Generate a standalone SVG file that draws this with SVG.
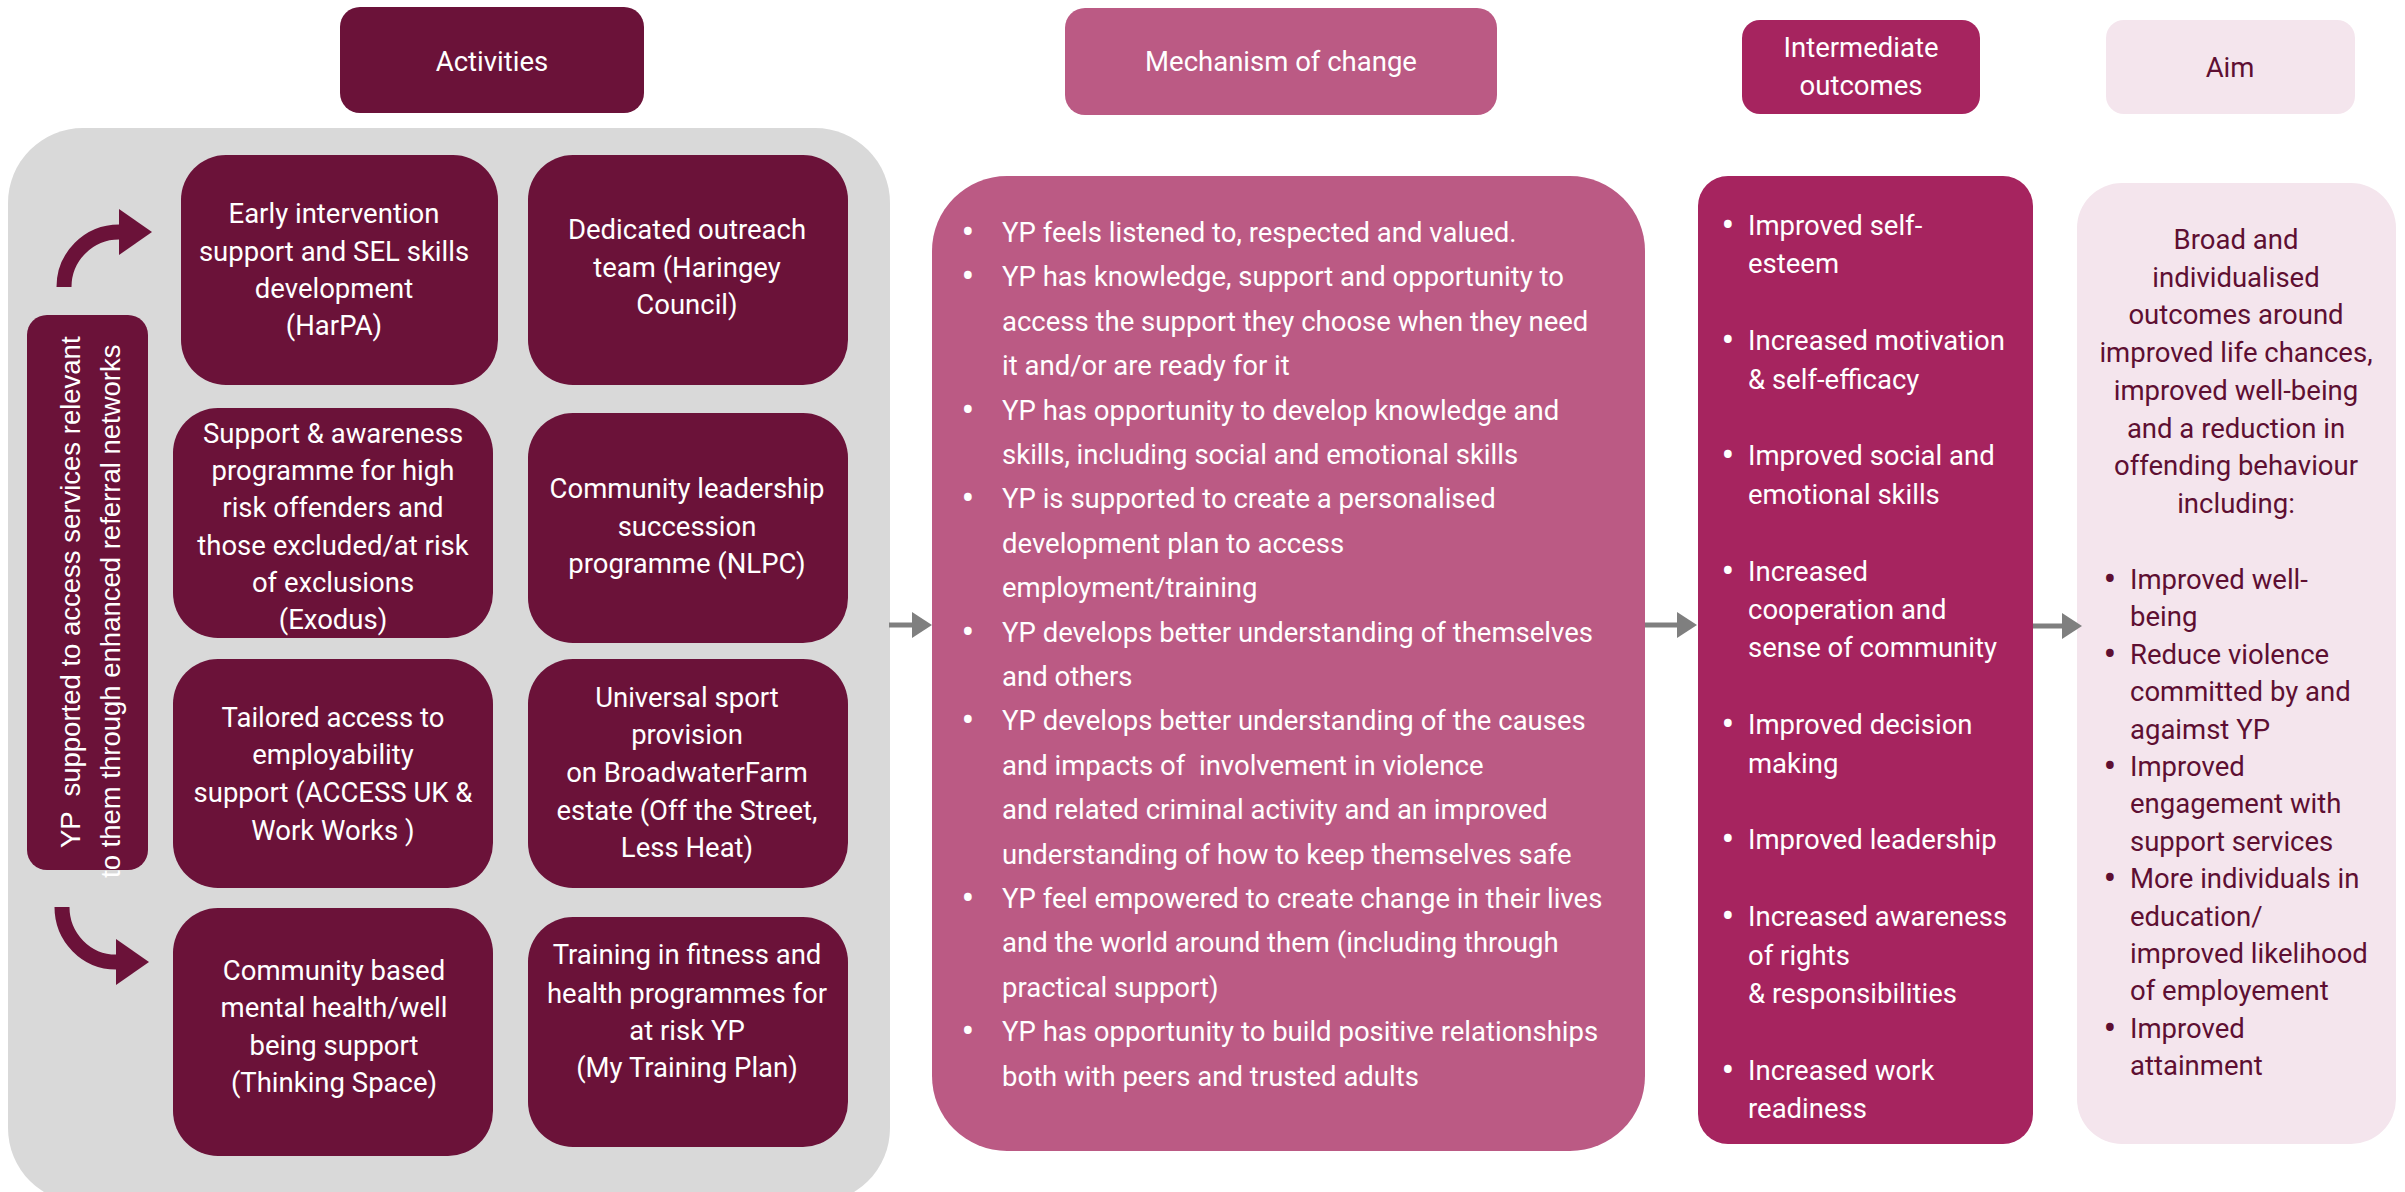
<svg xmlns="http://www.w3.org/2000/svg" width="2405" height="1192" viewBox="0 0 2405 1192">
<style>
  .t { font-family: Roboto, "Liberation Sans", sans-serif; font-size: 27.5px; }
  .w { fill: #ffffff; }
  .d { fill: #5e0f32; }
  .c { text-anchor: middle; }
  .b { text-anchor: middle; font-size: 38px; }
  .act { fill: #6b1239; }
  .mech { fill: #bb5a84; }
  .inter { fill: #a6245f; }
  .aim { fill: #f4e5ed; }
  .v { font-family: "Liberation Sans", Arial, sans-serif; font-size: 27.5px; fill: #ffffff; }
</style>
<defs>
  <marker id="grayHead" markerUnits="userSpaceOnUse" markerWidth="20" markerHeight="26" refX="0" refY="13" orient="auto">
    <path d="M0,0 L20,13 L0,26 z" fill="#7f7f7f"/>
  </marker>
  <marker id="maroonHead" markerUnits="userSpaceOnUse" markerWidth="34" markerHeight="46" refX="0" refY="23" orient="auto">
    <path d="M0,0 L33,23 L0,46 z" fill="#6b1239"/>
  </marker>
</defs>

<rect id="activities-panel" x="8" y="128" width="882" height="1075" rx="75" fill="#d9d9d9"/>

<g id="header-activities">
  <rect x="340" y="7" width="304" height="106" rx="20" class="act"/>
  <text class="t w c" x="492" y="71">Activities</text>
</g>
<g id="header-mechanism">
  <rect x="1065" y="8" width="432" height="107" rx="20" class="mech"/>
  <text class="t w c" x="1281" y="71">Mechanism of change</text>
</g>
<g id="header-intermediate">
  <rect x="1742" y="20" width="238" height="94" rx="18" class="inter"/>
  <text class="t w c" x="1861" y="57">Intermediate</text>
  <text class="t w c" x="1861" y="95">outcomes</text>
</g>
<g id="header-aim">
  <rect x="2106" y="20" width="249" height="94" rx="18" class="aim"/>
  <text class="t d c" x="2230" y="77">Aim</text>
</g>

<g id="referral">
  <rect x="27" y="315" width="121" height="555" rx="20" class="act"/>
  <text class="v" transform="translate(80,848) rotate(-90)" xml:space="preserve">YP  supported to access services relevant</text>
  <text class="v" transform="translate(120,878) rotate(-90)">to them through enhanced referral networks</text>
</g>

<g id="box-harpa">
  <rect x="181" y="155" width="317" height="230" rx="45" class="act"/>
  <text class="t w c" x="334" y="223">Early intervention</text>
  <text class="t w c" x="334" y="261">support and SEL skills</text>
  <text class="t w c" x="334" y="298">development</text>
  <text class="t w c" x="334" y="335">(HarPA)</text>
</g>
<g id="box-outreach">
  <rect x="528" y="155" width="320" height="230" rx="45" class="act"/>
  <text class="t w c" x="687" y="239">Dedicated outreach</text>
  <text class="t w c" x="687" y="277">team (Haringey</text>
  <text class="t w c" x="687" y="314">Council)</text>
</g>
<g id="box-exodus">
  <rect x="173" y="408" width="320" height="230" rx="45" class="act"/>
  <text class="t w c" x="333" y="443">Support &amp; awareness</text>
  <text class="t w c" x="333" y="480">programme for high</text>
  <text class="t w c" x="333" y="517">risk offenders and</text>
  <text class="t w c" x="333" y="555">those excluded/at risk</text>
  <text class="t w c" x="333" y="592">of exclusions</text>
  <text class="t w c" x="333" y="629">(Exodus)</text>
</g>
<g id="box-nlpc">
  <rect x="528" y="413" width="320" height="230" rx="45" class="act"/>
  <text class="t w c" x="687" y="498">Community leadership</text>
  <text class="t w c" x="687" y="536">succession</text>
  <text class="t w c" x="687" y="573">programme (NLPC)</text>
</g>
<g id="box-access">
  <rect x="173" y="659" width="320" height="229" rx="45" class="act"/>
  <text class="t w c" x="333" y="727">Tailored access to</text>
  <text class="t w c" x="333" y="764">employability</text>
  <text class="t w c" x="333" y="802">support (ACCESS UK &amp;</text>
  <text class="t w c" x="333" y="840">Work Works )</text>
</g>
<g id="box-sport">
  <rect x="528" y="659" width="320" height="229" rx="45" class="act"/>
  <text class="t w c" x="687" y="707">Universal sport</text>
  <text class="t w c" x="687" y="744">provision</text>
  <text class="t w c" x="687" y="782">on BroadwaterFarm</text>
  <text class="t w c" x="687" y="820">estate (Off the Street,</text>
  <text class="t w c" x="687" y="857">Less Heat)</text>
</g>
<g id="box-thinking">
  <rect x="173" y="908" width="320" height="248" rx="45" class="act"/>
  <text class="t w c" x="334" y="980">Community based</text>
  <text class="t w c" x="334" y="1017">mental health/well</text>
  <text class="t w c" x="334" y="1055">being support</text>
  <text class="t w c" x="334" y="1092">(Thinking Space)</text>
</g>
<g id="box-training">
  <rect x="528" y="917" width="320" height="230" rx="45" class="act"/>
  <text class="t w c" x="687" y="964">Training in fitness and</text>
  <text class="t w c" x="687" y="1003">health programmes for</text>
  <text class="t w c" x="687" y="1040">at risk YP</text>
  <text class="t w c" x="687" y="1077">(My Training Plan)</text>
</g>

<g id="mechanism">
  <rect x="932" y="176" width="713" height="975" rx="75" class="mech"/>
  <g class="t w">
    <text x="968" y="245" class="b">•</text><text x="1002" y="242">YP feels listened to, respected and valued.</text>
    <text x="968" y="289.4" class="b">•</text><text x="1002" y="286.4">YP has knowledge, support and opportunity to</text>
    <text x="1002" y="330.8">access the support they choose when they need</text>
    <text x="1002" y="375.2">it and/or are ready for it</text>
    <text x="968" y="422.6" class="b">•</text><text x="1002" y="419.6">YP has opportunity to develop knowledge and</text>
    <text x="1002" y="464">skills, including social and emotional skills</text>
    <text x="968" y="511.4" class="b">•</text><text x="1002" y="508.4">YP is supported to create a personalised</text>
    <text x="1002" y="552.8">development plan to access</text>
    <text x="1002" y="597.2">employment/training</text>
    <text x="968" y="644.6" class="b">•</text><text x="1002" y="641.6">YP develops better understanding of themselves</text>
    <text x="1002" y="686">and others</text>
    <text x="968" y="733.4" class="b">•</text><text x="1002" y="730.4">YP develops better understanding of the causes</text>
    <text x="1002" y="774.8" xml:space="preserve">and impacts of  involvement in violence</text>
    <text x="1002" y="819.2">and related criminal activity and an improved</text>
    <text x="1002" y="863.6">understanding of how to keep themselves safe</text>
    <text x="968" y="911" class="b">•</text><text x="1002" y="908">YP feel empowered to create change in their lives</text>
    <text x="1002" y="952.4">and the world around them (including through</text>
    <text x="1002" y="996.8">practical support)</text>
    <text x="968" y="1044.2" class="b">•</text><text x="1002" y="1041.2">YP has opportunity to build positive relationships</text>
    <text x="1002" y="1085.6">both with peers and trusted adults</text>
  </g>
</g>

<g id="intermediate">
  <rect x="1698" y="176" width="335" height="968" rx="30" class="inter"/>
  <g class="t w">
    <text x="1728" y="238" class="b">•</text><text x="1748" y="235">Improved self-</text>
    <text x="1748" y="273.4">esteem</text>
    <text x="1728" y="353.2" class="b">•</text><text x="1748" y="350.2">Increased motivation</text>
    <text x="1748" y="388.6">&amp; self-efficacy</text>
    <text x="1728" y="468.4" class="b">•</text><text x="1748" y="465.4">Improved social and</text>
    <text x="1748" y="503.8">emotional skills</text>
    <text x="1728" y="583.6" class="b">•</text><text x="1748" y="580.6">Increased</text>
    <text x="1748" y="619">cooperation and</text>
    <text x="1748" y="657.4">sense of community</text>
    <text x="1728" y="737.2" class="b">•</text><text x="1748" y="734.2">Improved decision</text>
    <text x="1748" y="772.6">making</text>
    <text x="1728" y="852.4" class="b">•</text><text x="1748" y="849.4">Improved leadership</text>
    <text x="1728" y="929.2" class="b">•</text><text x="1748" y="926.2">Increased awareness</text>
    <text x="1748" y="964.6">of rights</text>
    <text x="1748" y="1003">&amp; responsibilities</text>
    <text x="1728" y="1082.8" class="b">•</text><text x="1748" y="1079.8">Increased work</text>
    <text x="1748" y="1118.2">readiness</text>
  </g>
</g>

<g id="aim">
  <rect x="2077" y="183" width="319" height="961" rx="45" class="aim"/>
  <g class="t d">
    <text x="2236" y="249" class="c">Broad and</text>
    <text x="2236" y="286.7" class="c">individualised</text>
    <text x="2236" y="324.4" class="c">outcomes around</text>
    <text x="2236" y="362.1" class="c">improved life chances,</text>
    <text x="2236" y="399.8" class="c">improved well-being</text>
    <text x="2236" y="437.5" class="c">and a reduction in</text>
    <text x="2236" y="475.2" class="c">offending behaviour</text>
    <text x="2236" y="512.9" class="c">including:</text>
    <text x="2110" y="592" class="b">•</text><text x="2130" y="589">Improved well-</text>
    <text x="2130" y="626.4">being</text>
    <text x="2110" y="666.8" class="b">•</text><text x="2130" y="663.8">Reduce violence</text>
    <text x="2130" y="701.2">committed by and</text>
    <text x="2130" y="738.6">agaimst YP</text>
    <text x="2110" y="779" class="b">•</text><text x="2130" y="776">Improved</text>
    <text x="2130" y="813.4">engagement with</text>
    <text x="2130" y="850.8">support services</text>
    <text x="2110" y="891.2" class="b">•</text><text x="2130" y="888.2">More individuals in</text>
    <text x="2130" y="925.6">education/</text>
    <text x="2130" y="963">improved likelihood</text>
    <text x="2130" y="1000.4">of employement</text>
    <text x="2110" y="1040.8" class="b">•</text><text x="2130" y="1037.8">Improved</text>
    <text x="2130" y="1075.2">attainment</text>
  </g>
</g>

<g id="connectors">
  <path d="M64,287 A55,55 0 0 1 119,232" fill="none" stroke="#6b1239" stroke-width="15" marker-end="url(#maroonHead)"/>
  <path d="M62,907 A54,55 0 0 0 116,962" fill="none" stroke="#6b1239" stroke-width="15" marker-end="url(#maroonHead)"/>
  <line x1="889" y1="625" x2="912" y2="625" stroke="#7f7f7f" stroke-width="5" marker-end="url(#grayHead)"/>
  <line x1="1645" y1="625" x2="1677" y2="625" stroke="#7f7f7f" stroke-width="5" marker-end="url(#grayHead)"/>
  <line x1="2033" y1="626" x2="2062" y2="626" stroke="#7f7f7f" stroke-width="5" marker-end="url(#grayHead)"/>
</g>
</svg>
